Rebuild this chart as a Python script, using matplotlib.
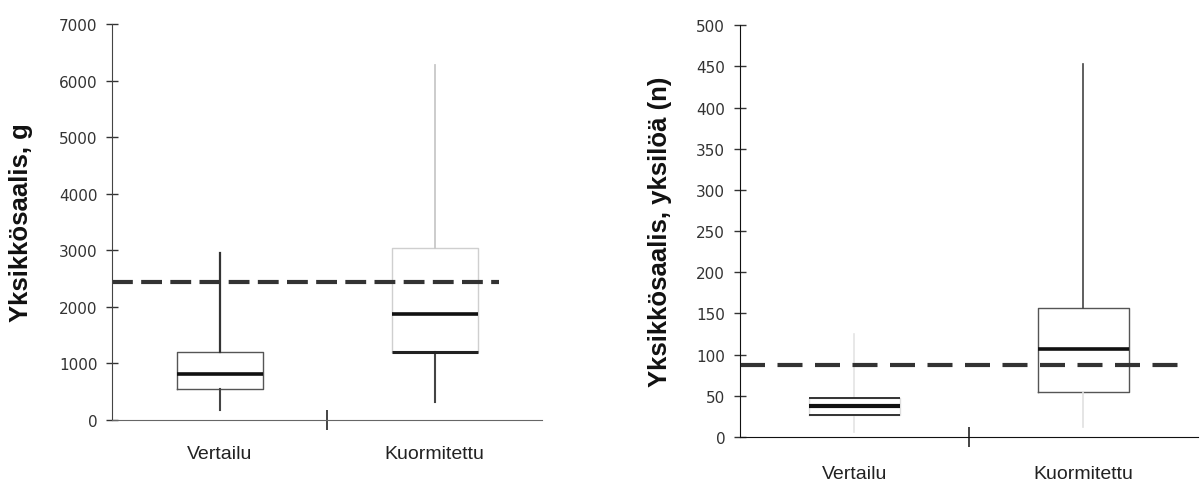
import matplotlib
matplotlib.use("Agg")
import matplotlib.pyplot as plt

plt.rcParams['font.family'] = ['Liberation Sans', 'DejaVu Sans']

categories = ["Vertailu", "Kuormitettu"]

# Left panel: catch per unit effort, grams
g_whislo = [170, 320]
g_q1 = [550, 1200]
g_med = [810, 1870]
g_q3 = [1210, 3050]
g_whishi = [2960, 6270]
g_reference = 2440
g_yticks = [0, 1000, 2000, 3000, 4000, 5000, 6000, 7000]

# Right panel: catch per unit effort, individuals
n_whislo = [6, 12]
n_q1 = [27, 55]
n_med = [37, 107]
n_q3 = [47, 156]
n_whishi = [125, 453]
n_reference = 87
n_yticks = [0, 50, 100, 150, 200, 250, 300, 350, 400, 450, 500]

fig = plt.figure(figsize=(12.01, 4.85), dpi=100)
axL = fig.add_axes([0.0933, 0.132, 0.358, 0.816])
axR = fig.add_axes([0.616, 0.097, 0.3815, 0.849])

positions = [0.5, 1.5]


def make_stats(lo, q1, med, q3, hi):
    return [dict(whislo=lo[i], q1=q1[i], med=med[i], q3=q3[i], whishi=hi[i], fliers=[], label=categories[i])
            for i in range(len(categories))]


def style_axes(ax, ymax, yticks, xpad):
    ax.set_xlim(0, 2)
    ax.set_ylim(0, ymax)
    ax.set_yticks(yticks)
    ax.set_xticks(positions)
    ax.set_xticklabels(categories, fontsize=14, color='#222222')
    ax.spines['top'].set_visible(False)
    ax.spines['right'].set_visible(False)
    ax.tick_params(axis='y', direction='inout', length=9, width=1, colors='#333333', labelsize=11, pad=6)
    ax.tick_params(axis='x', length=0, pad=xpad)
    for lab in ax.get_yticklabels():
        lab.set_family('DejaVu Sans')
    # mid separator tick on x-axis
    ax.plot([1, 1], [0, 0], marker='|', markersize=14, color='#444444', clip_on=False, mew=1.2)


# ---------- Left panel ----------
bL = axL.bxp(make_stats(g_whislo, g_q1, g_med, g_q3, g_whishi), positions=positions, widths=0.4,
             showcaps=False, showfliers=False, patch_artist=False)
# Vertailu
bL['boxes'][0].set(color='#555555', linewidth=1.0)
bL['medians'][0].set(color='#111111', linewidth=2.6)
bL['whiskers'][0].set(color='#444444', linewidth=1.5)
bL['whiskers'][1].set(color='#333333', linewidth=1.6)
# Kuormitettu
bL['boxes'][1].set(color='#cfcfcf', linewidth=1.0)
bL['medians'][1].set(color='#111111', linewidth=2.6)
bL['whiskers'][2].set(color='#444444', linewidth=1.5)
bL['whiskers'][3].set(color='#c8c8c8', linewidth=1.3)
axL.hlines(g_q1[1], positions[1] - 0.2, positions[1] + 0.2, color='#222222', linewidth=2.2)

axL.axhline(g_reference, xmin=0, xmax=0.9, color='#333333', linewidth=3.0, dashes=(5, 2))
style_axes(axL, 7000, g_yticks, xpad=18)
axL.spines['left'].set_color('#444444')
axL.spines['bottom'].set_color('#666666')
axL.set_ylabel("Yksikkösaalis, g", fontsize=18.5, fontweight='bold', color='#111111')
axL.yaxis.set_label_coords(-0.183, 0.5)

# ---------- Right panel ----------
bR = axR.bxp(make_stats(n_whislo, n_q1, n_med, n_q3, n_whishi), positions=positions, widths=0.4,
             showcaps=False, showfliers=False, patch_artist=False)
# Vertailu
bR['boxes'][0].set(color='#dddddd', linewidth=1.0)
bR['medians'][0].set(color='#111111', linewidth=3.0)
bR['whiskers'][0].set(color='#e4e4e4', linewidth=1.2)
bR['whiskers'][1].set(color='#e4e4e4', linewidth=1.2)
axR.hlines([n_q1[0], n_q3[0]], positions[0] - 0.2, positions[0] + 0.2, color='#333333', linewidth=1.4)
# Kuormitettu
bR['boxes'][1].set(color='#555555', linewidth=1.0)
bR['medians'][1].set(color='#111111', linewidth=2.6)
bR['whiskers'][2].set(color='#e0e0e0', linewidth=1.2)
bR['whiskers'][3].set(color='#444444', linewidth=1.2)

axR.axhline(n_reference, xmin=0, xmax=0.96, color='#333333', linewidth=3.0, dashes=(6, 3))
style_axes(axR, 500, n_yticks, xpad=20)
axR.spines['left'].set_color('#111111')
axR.spines['bottom'].set_color('#111111')
axR.set_ylabel("Yksikkösaalis, yksilöä (n)", fontsize=18.5, fontweight='bold', color='#111111')
axR.yaxis.set_label_coords(-0.148, 0.5)

fig.savefig("out.png", dpi=100)
